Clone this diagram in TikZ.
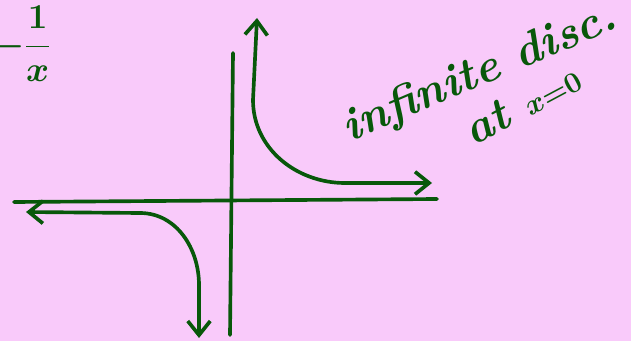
\documentclass[tikz,border=0pt]{standalone}
\usepackage{amsmath}
\usepackage{xcolor}
\usetikzlibrary{arrows.meta,positioning}
\definecolor{pinkbg}{RGB}{249,202,250}
\definecolor{ink}{RGB}{8,88,10}

\begin{document}
\begin{tikzpicture}[
  x=0.025cm, y=-0.025cm,
  pen/.style={draw=ink, line width=2.6pt, line cap=round, line join=round},
  arr/.style={pen, {Straight Barb[length=10pt, width=16pt]}-{Straight Barb[length=10pt, width=16pt]}},
  note/.style={text=ink, inner sep=0pt, font=\fontsize{33}{38}\selectfont\bfseries\itshape\boldmath},
]
  \fill[pinkbg] (0,0) rectangle (631,341);
  \useasboundingbox (0,0) rectangle (631,341);
  \coordinate (xl) at (14,202);
  \coordinate (xr) at (437,199);
  \coordinate (yt) at (233,53);
  \coordinate (yb) at (230,335);
  \draw[pen] (xl) -- (xr);
  \draw[pen] (yt) -- (yb);
  \coordinate (qtop) at (257,18);
  \coordinate (qend) at (432,183);
  \draw[arr] (qtop) -- (253,100) to[out=-90, in=180] (345,183) -- (qend);
  \coordinate (lend) at (26,212);
  \coordinate (lbot) at (199,338);
  \draw[arr] (lend) -- (140,213) to[out=0, in=90] (199,285) -- (lbot);
  \node[text=ink, inner sep=0pt, font=\fontsize{32}{36}\selectfont\boldmath] (fn) at (22,44) {$-\dfrac{1}{x}$};
  \node[note, rotate=23] (disc) at (480,74) {infinite disc.};
  \node[note, rotate=28] (at) at (522,104) {at \fontsize{21}{25}\selectfont$x{=}0$};
\end{tikzpicture}
\end{document}
